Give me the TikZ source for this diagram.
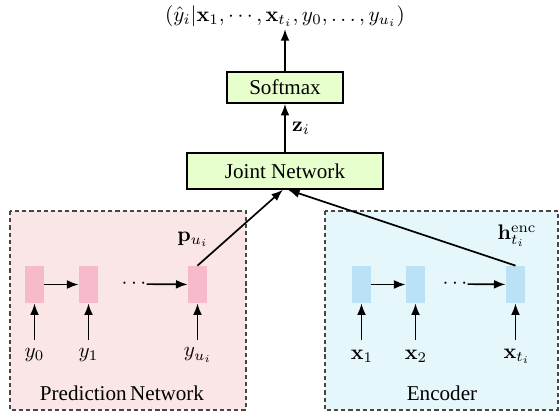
\documentclass[tikz,border=0pt]{standalone}
\usepackage[no-math]{fontspec}
\setmainfont{Liberation Serif}
\usetikzlibrary{arrows.meta}
\definecolor{pinkbg}{RGB}{250,230,230}
\definecolor{pinkcell}{RGB}{246,186,202}
\definecolor{bluebg}{RGB}{230,247,251}
\definecolor{bluecell}{RGB}{186,225,246}
\definecolor{greenbox}{RGB}{230,255,204}
\definecolor{panelborder}{RGB}{70,70,70}
\begin{document}
\begin{tikzpicture}[x=0.474pt,y=-0.474pt,
  arr/.style={-{Latex[length=5.5pt,width=4.2pt]},line width=0.8pt},
  panel/.style={draw=panelborder,line width=0.5pt,dash pattern=on 2pt off 1.4pt},
  cellbox/.style={minimum width=9pt,minimum height=17.5pt,inner sep=0pt},
  netbox/.style={draw,line width=0.8pt,fill=greenbox,inner sep=0pt},
  lbl/.style={inner sep=0pt}]
\useasboundingbox (0,0) rectangle (559,412);
% panels
\draw[panel,fill=pinkbg] (10,211) rectangle (246,410);
\draw[panel,fill=bluebg] (325,211) rectangle (558,410);
\node[lbl] (predlbl) at (122,393) {Prediction\,Network};
\node[lbl] (enclbl) at (442,393) {Encoder};
% top boxes
\node[netbox,minimum width=92.9pt,minimum height=17pt] (joint) at (285,171) {Joint Network};
\node[netbox,minimum width=55pt,minimum height=14.7pt] (soft) at (285,87.5) {Softmax};
\node[inner sep=1pt] (out) at (285,16) {$(\hat{y}_i|\mathbf{x}_1,\cdots,\mathbf{x}_{t_i},y_0,\ldots,y_{u_i})$};
\draw[arr] (joint) -- (soft) node[midway,right,lbl,xshift=3pt] (zlbl) {$\mathbf{z}_i$};
\draw[arr] (soft) -- (out);
% prediction cells
\node[cellbox,fill=pinkcell] (c1) at (34.5,284.5) {};
\node[cellbox,fill=pinkcell] (c2) at (88.5,284.5) {};
\node[cellbox,fill=pinkcell] (c3) at (197.5,284.5) {};
\node[lbl] (pdots) at (134,284) {$\cdots$};
\draw[arr] (c1) -- (c2);
\draw[arr] (pdots) -- (c3);
\coordinate (a1) at (34.5,340);
\coordinate (a2) at (88.5,340);
\coordinate (a3) at (197.5,340);
\draw[arr] (a1) -- (c1);
\draw[arr] (a2) -- (c2);
\draw[arr] (a3) -- (c3);
\node[lbl] (y0) at (34.5,355) {$y_0$};
\node[lbl] (y1) at (88.5,355) {$y_1$};
\node[lbl] (yu) at (198,355) {$y_{u_i}$};
\node[lbl] (plbl) at (193,239) {$\mathbf{p}_{u_i}$};
% encoder cells
\node[cellbox,fill=bluecell] (e1) at (361.5,284.5) {};
\node[cellbox,fill=bluecell] (e2) at (415.5,284.5) {};
\node[cellbox,fill=bluecell] (e3) at (515.5,284.5) {};
\node[lbl] (edots) at (455,284) {$\cdots$};
\draw[arr] (e1) -- (e2);
\draw[arr] (edots) -- (e3);
\coordinate (b1) at (361.5,340);
\coordinate (b2) at (415.5,340);
\coordinate (b3) at (515.5,340);
\draw[arr] (b1) -- (e1);
\draw[arr] (b2) -- (e2);
\draw[arr] (b3) -- (e3);
\node[lbl] (x1) at (362,356) {$\mathbf{x}_1$};
\node[lbl] (x2) at (416,356) {$\mathbf{x}_2$};
\node[lbl] (xt) at (517,356) {$\mathbf{x}_{t_i}$};
\node[lbl] (hlbl) at (517,236) {$\mathbf{h}^{\mathrm{enc}}_{t_i}$};
% connections to joint
\draw[arr] (c3.north) -- ([xshift=-1pt]joint.south);
\draw[arr] (e3.north) -- ([xshift=1.4pt]joint.south);
\end{tikzpicture}
\end{document}
